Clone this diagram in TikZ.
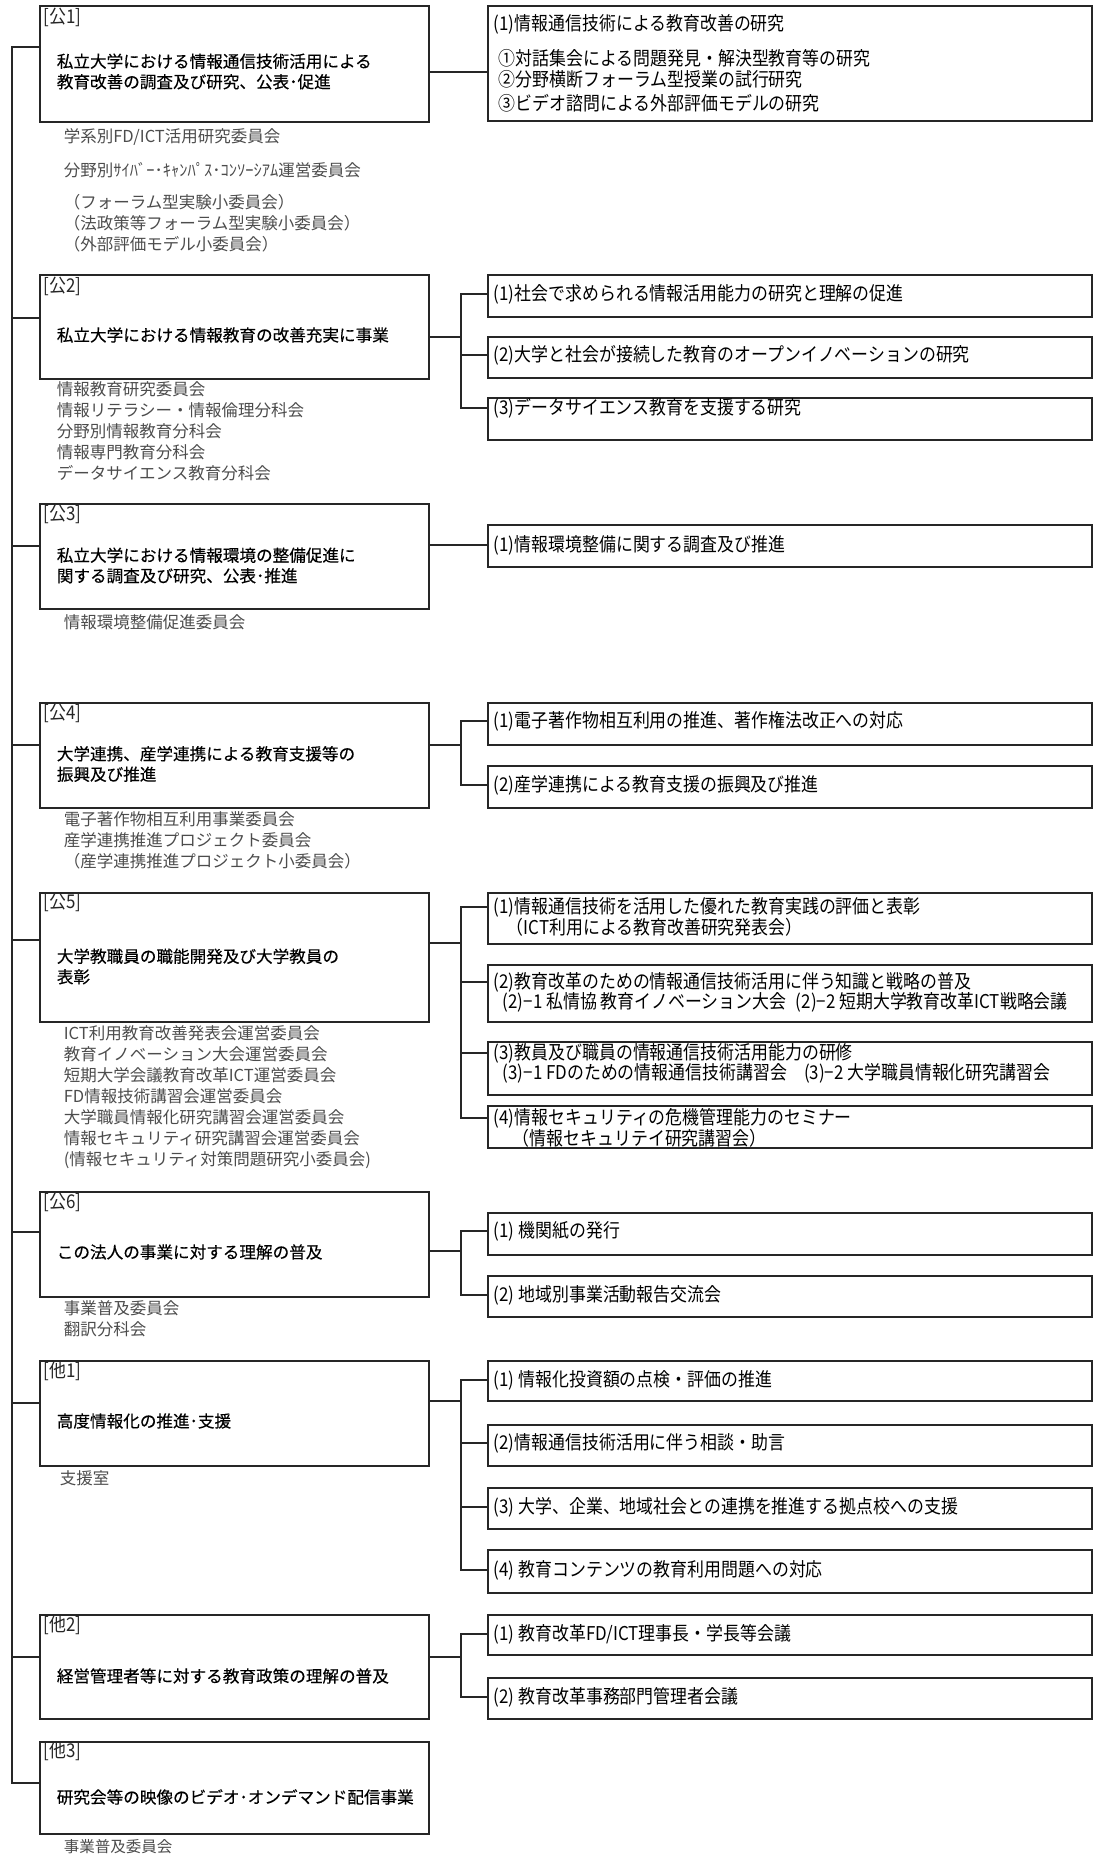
\documentclass[tikz,border=0pt]{standalone}
\usepackage{fontspec}
\newfontfamily\jpn[FakeStretch=0.89]{Noto Sans CJK JP}
\newfontfamily\jpt[FakeBold=0.3]{Noto Sans CJK JP}
\newfontfamily\jpm{Noto Sans CJK JP}
\begin{document}
\begin{tikzpicture}[x=1pt, y=-1pt, line width=1.7pt, color=black!85,
    lbox/.style={draw, anchor=north west, minimum width=389pt, inner sep=0pt},
    rbox/.style={draw, anchor=north west, minimum width=604pt, inner sep=0pt},
    tag/.style={anchor=west, inner sep=0pt, font=\jpn\fontsize{19}{21}\selectfont},
    ttl/.style={anchor=west, inner sep=0pt, align=left, text=black, font=\jpt\fontsize{16.6}{20.5}\selectfont},
    itm/.style={anchor=west, inner sep=0pt, text=black, font=\jpn\fontsize{19}{21}\selectfont},
    iinkai/.style={anchor=north west, inner sep=0pt, align=left, text=black!70, font=\jpm\fontsize{16.5}{21}\selectfont},
    wire/.style={line cap=rect}]
    \useasboundingbox (0,0) rectangle (1101,1854);
    \coordinate (trunk) at (12,0);
    %公1
    \node[lbox, minimum height=116pt] (k1) at (39,5) {};
    \node[tag] (k1g) at (43,17) {[公1]};
    \node[ttl] (k1t) at (56,71.5) {私立大学における情報通信技術活用による\\教育改善の調査及び研究、公表･促進};
    \node[iinkai] (k1m) at (63,128) {学系別FD/ICT活用研究委員会\\[13pt]分野別ｻｲﾊﾞｰ･ｷｬﾝﾊﾟｽ･ｺﾝｿｰｼｱﾑ運営委員会\\[11pt]（フォーラム型実験小委員会）\\（法政策等フォーラム型実験小委員会）\\（外部評価モデル小委員会）};
    \node[rbox, minimum height=115pt] (k1a) at (487,5) {};
    \node[itm] (k1at) at (493,24) {(1)情報通信技術による教育改善の研究};
    \node[itm] (k1at2) at (498,58) {①対話集会による問題発見・解決型教育等の研究};
    \node[itm] (k1at3) at (498,79) {②分野横断フォーラム型授業の試行研究};
    \node[itm] (k1at4) at (498,103) {③ビデオ諮問による外部評価モデルの研究};
    %公2
    \node[lbox, minimum height=104pt] (k2) at (39,274) {};
    \node[tag] (k2g) at (43,286) {[公2]};
    \node[ttl] (k2t) at (56,335) {私立大学における情報教育の改善充実に事業};
    \node[iinkai] (k2m) at (56,381) {情報教育研究委員会\\情報リテラシー・情報倫理分科会\\分野別情報教育分科会\\情報専門教育分科会\\データサイエンス教育分科会};
    \node[rbox, minimum height=42pt] (k2a) at (487,274) {};
    \node[itm] (k2at) at (493,294) {(1)社会で求められる情報活用能力の研究と理解の促進};
    \node[rbox, minimum height=41pt] (k2b) at (487,336) {};
    \node[itm] (k2bt) at (493,355) {(2)大学と社会が接続した教育のオープンイノベーションの研究};
    \node[rbox, minimum height=42pt] (k2c) at (487,397) {};
    \node[itm] (k2ct) at (493,408) {(3)データサイエンス教育を支援する研究};
    %公3
    \node[lbox, minimum height=105pt] (k3) at (39,503) {};
    \node[tag] (k3g) at (43,514) {[公3]};
    \node[ttl] (k3t) at (56,565.5) {私立大学における情報環境の整備促進に\\関する調査及び研究、公表･推進};
    \node[iinkai] (k3m) at (63,614) {情報環境整備促進委員会};
    \node[rbox, minimum height=42pt] (k3a) at (487,524) {};
    \node[itm] (k3at) at (493,545) {(1)情報環境整備に関する調査及び推進};
    %公4
    \node[lbox, minimum height=105pt] (k4) at (39,702) {};
    \node[tag] (k4g) at (43,713) {[公4]};
    \node[ttl] (k4t) at (56,764) {大学連携、産学連携による教育支援等の\\振興及び推進};
    \node[iinkai] (k4m) at (63,811) {電子著作物相互利用事業委員会\\産学連携推進プロジェクト委員会\\（産学連携推進プロジェクト小委員会）};
    \node[rbox, minimum height=42pt] (k4a) at (487,702) {};
    \node[itm] (k4at) at (493,721) {(1)電子著作物相互利用の推進、著作権法改正への対応};
    \node[rbox, minimum height=42pt] (k4b) at (487,765) {};
    \node[itm] (k4bt) at (493,785) {(2)産学連携による教育支援の振興及び推進};
    %公5
    \node[lbox, minimum height=129pt] (k5) at (39,892) {};
    \node[tag] (k5g) at (43,902) {[公5]};
    \node[ttl] (k5t) at (56,966.5) {大学教職員の職能開発及び大学教員の\\表彰};
    \node[iinkai] (k5m) at (63,1025) {ICT利用教育改善発表会運営委員会\\教育イノベーション大会運営委員会\\短期大学会議教育改革ICT運営委員会\\FD情報技術講習会運営委員会\\大学職員情報化研究講習会運営委員会\\情報セキュリティ研究講習会運営委員会\\(情報セキュリティ対策問題研究小委員会)};
    \node[rbox, minimum height=51pt] (k5a) at (487,892) {};
    \node[itm] (k5at) at (493,907) {(1)情報通信技術を活用した優れた教育実践の評価と表彰};
    \node[itm] (k5at2) at (506,927) {（ICT利用による教育改善研究発表会）};
    \node[rbox, minimum height=57pt] (k5b) at (487,964) {};
    \node[itm] (k5bt) at (493,982) {(2)教育改革のための情報通信技術活用に伴う知識と戦略の普及};
    \node[itm] (k5bt2) at (502,1002) {(2)−1 私情協 教育イノベーション大会\hspace{0.5em}(2)−2 短期大学教育改革ICT戦略会議};
    \node[rbox, minimum height=53pt] (k5c) at (487,1041) {};
    \node[itm] (k5ct) at (493,1053) {(3)教員及び職員の情報通信技術活用能力の研修};
    \node[itm] (k5ct2) at (502,1073) {(3)−1 FDのための情報通信技術講習会\hspace{0.9em}(3)−2 大学職員情報化研究講習会};
    \node[rbox, minimum height=42pt] (k5d) at (487,1105) {};
    \node[itm] (k5dt) at (493,1118) {(4)情報セキュリティの危機管理能力のセミナー};
    \node[itm] (k5dt2) at (512,1138) {（情報セキュリテイ研究講習会）};
    %公6
    \node[lbox, minimum height=105pt] (k6) at (39,1191) {};
    \node[tag] (k6g) at (43,1202) {[公6]};
    \node[ttl] (k6t) at (56,1252) {この法人の事業に対する理解の普及};
    \node[iinkai] (k6m) at (63,1300) {事業普及委員会\\翻訳分科会};
    \node[rbox, minimum height=42pt] (k6a) at (487,1212) {};
    \node[itm] (k6at) at (493,1231) {(1) 機関紙の発行};
    \node[rbox, minimum height=41pt] (k6b) at (487,1275) {};
    \node[itm] (k6bt) at (493,1295) {(2) 地域別事業活動報告交流会};
    %他1
    \node[lbox, minimum height=105pt] (t1) at (39,1360) {};
    \node[tag] (t1g) at (43,1371) {[他1]};
    \node[ttl] (t1t) at (56,1421) {高度情報化の推進･支援};
    \node[iinkai] (t1m) at (59,1470) {支援室};
    \node[rbox, minimum height=40pt] (t1a) at (487,1360) {};
    \node[itm] (t1at) at (493,1380) {(1) 情報化投資額の点検・評価の推進};
    \node[rbox, minimum height=41pt] (t1b) at (487,1424) {};
    \node[itm] (t1bt) at (493,1443) {(2)情報通信技術活用に伴う相談・助言};
    \node[rbox, minimum height=41pt] (t1c) at (487,1487) {};
    \node[itm] (t1ct) at (493,1507) {(3) 大学、企業、地域社会との連携を推進する拠点校への支援};
    \node[rbox, minimum height=43pt] (t1d) at (487,1549) {};
    \node[itm] (t1dt) at (493,1570) {(4) 教育コンテンツの教育利用問題への対応};
    %他2
    \node[lbox, minimum height=104pt] (t2) at (39,1614) {};
    \node[tag] (t2g) at (43,1625) {[他2]};
    \node[ttl] (t2t) at (56,1676) {経営管理者等に対する教育政策の理解の普及};
    \node[rbox, minimum height=40pt] (t2a) at (487,1614) {};
    \node[itm] (t2at) at (493,1634) {(1) 教育改革FD/ICT理事長・学長等会議};
    \node[rbox, minimum height=41pt] (t2b) at (487,1677) {};
    \node[itm] (t2bt) at (493,1697) {(2) 教育改革事務部門管理者会議};
    %他3
    \node[lbox, minimum height=92pt] (t3) at (39,1741) {};
    \node[tag] (t3g) at (43,1751) {[他3]};
    \node[ttl] (t3t) at (56,1797) {研究会等の映像のビデオ･オンデマンド配信事業};
    \node[iinkai, font=\jpm\fontsize{15.5}{20}\selectfont] (t3m) at (63,1838.5) {事業普及委員会};

    %左の幹線
    \draw[wire] ([yshift=-42pt]k1.north west -| trunk) -- ([yshift=-42pt]t3.north west -| trunk);
    \foreach \n/\d in {k1/42, k2/44, k3/43, k4/43, k5/48, k6/41, t1/43, t2/43, t3/42}
        \draw[wire] ([yshift=-\d pt]\n.north west) -- ([yshift=-\d pt]\n.north west -| trunk);

    %右への枝
    \coordinate (k1j) at (461,72);
    \coordinate (k2j) at (461,337);
    \coordinate (k3j) at (461,545);
    \coordinate (k4j) at (461,745);
    \coordinate (k5j) at (461,943);
    \coordinate (k6j) at (461,1251);
    \coordinate (t1j) at (461,1401);
    \coordinate (t2j) at (461,1657);
    \draw[wire] (k1.east |- k1j) -- (k1a.west |- k1j);
    \draw[wire] (k3.east |- k3j) -- (k3a.west |- k3j);
    \foreach \n in {k2, k4, k5, k6, t1, t2}
        \draw[wire] (\n.east |- \n j) -- (\n j);
    \draw[wire] (k2a.west |- k2at) -| (k2j) |- (k2c.west |- k2ct);
    \draw[wire] (k2j |- k2bt) -- (k2b.west |- k2bt);
    \draw[wire] (k4a.west |- k4at) -| (k4j) |- (k4b.west |- k4bt);
    \draw[wire] (k5a.west |- k5at) -| (k5j) |- (k5d.west |- k5dt);
    \draw[wire] (k5j |- k5bt) -- (k5b.west |- k5bt);
    \draw[wire] (k5j |- k5ct) -- (k5c.west |- k5ct);
    \draw[wire] (k6a.west |- k6at) -| (k6j) |- (k6b.west |- k6bt);
    \draw[wire] (t1a.west |- t1at) -| (t1j) |- (t1d.west |- t1dt);
    \draw[wire] (t1j |- t1bt) -- (t1b.west |- t1bt);
    \draw[wire] (t1j |- t1ct) -- (t1c.west |- t1ct);
    \draw[wire] (t2a.west |- t2at) -| (t2j) |- (t2b.west |- t2bt);
\end{tikzpicture}
\end{document}
